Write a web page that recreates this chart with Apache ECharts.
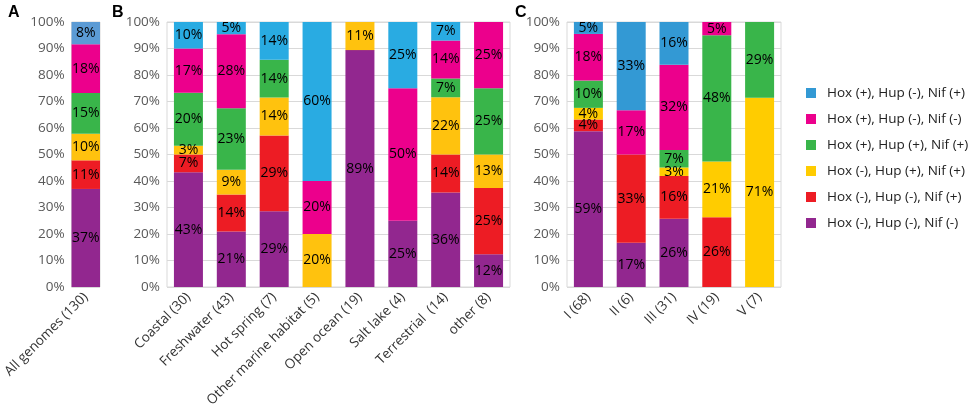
<!DOCTYPE html>
<html>
<head>
<meta charset="utf-8">
<script src="https://cdn.jsdelivr.net/npm/echarts@6/dist/echarts.min.js"></script>
<style>
  html, body { margin: 0; padding: 0; background: #fff; }
  #chart { width: 970px; height: 420px; }
</style>
</head>
<body>
<div id="chart"></div>
<script>
// series names, bottom of the stack first
const seriesNames = [
  'Hox (-), Hup (-), Nif (-)',
  'Hox (-), Hup (-), Nif (+)',
  'Hox (-), Hup (+), Nif (+)',
  'Hox (+), Hup (+), Nif (+)',
  'Hox (+), Hup (-), Nif (-)',
  'Hox (+), Hup (-), Nif (+)'
]

const catsA = ['All genomes (130)']
const catsB = ['Coastal (30)', 'Freshwater (43)', 'Hot spring (7)', 'Other marine habitat (5)',
  'Open ocean (19)', 'Salt lake (4)', 'Terrestrial  (14)', 'other (8)']
const catsC = ['I (68)', 'II (6)', 'III (31)', 'IV (19)', 'V (7)']

// percent per category, one array per series (same order as seriesNames)
const valuesA = [
  [37.0],
  [10.8],
  [10.0],
  [15.4],
  [18.4],
  [8.4]
]
const valuesB = [
  [43.3, 20.9, 28.6, 0, 89.4, 25, 35.7, 12.4],
  [6.7, 14.0, 28.6, 0, 0, 0, 14.3, 25],
  [3.3, 9.3, 14.3, 20, 10.6, 0, 21.6, 12.6],
  [20.0, 23.3, 14.3, 0, 0, 0, 7.1, 25],
  [16.7, 27.9, 0, 20, 0, 50, 14.3, 25],
  [10.0, 4.6, 14.2, 60, 0, 25, 7.0, 0]
]
const valuesC = [
  [58.8, 16.7, 25.8, 0, 0],
  [4.4, 33.3, 16.1, 26.3, 0],
  [4.4, 0, 3.2, 21.1, 71.4],
  [10.3, 0, 6.6, 47.6, 28.6],
  [17.6, 16.7, 32.2, 5.0, 0],
  [4.5, 33.3, 16.1, 0, 0]
]

const yTicks = [0, 10, 20, 30, 40, 50, 60, 70, 80, 90, 100]

const baseColors = ['#92278F', '#ED1C24', '#FFC20E', '#39B54A', '#EC008C']
const colorsA = baseColors.concat(['#5B9BD5'])
const colorsB = baseColors.concat(['#29ABE2'])
const colorsC = ['#92278F', '#ED1C24', '#FFCC00', '#39B54A', '#EC008C', '#3399D4']

const FONT = 'Open Sans'

const grids = [
  { left: 62, top: 22, width: 38, height: 265 },
  { left: 167, top: 22, width: 343, height: 265 },
  { left: 567, top: 22, width: 214, height: 265 }
].map(g => Object.assign(g, { show: true, borderColor: '#D9D9D9', borderWidth: 1 }))

const xAxes = [catsA, catsB, catsC].map((cats, i) => ({
  type: 'category',
  gridIndex: i,
  data: cats,
  axisLine: { show: false },
  axisTick: { show: false },
  axisLabel: { rotate: 45, interval: 0, margin: 8, color: '#333', fontSize: 13.5, fontFamily: FONT }
}))

const yAxes = [0, 1, 2].map(i => ({
  type: 'value',
  gridIndex: i,
  min: 0,
  max: 100,
  interval: 10,
  axisLine: { show: false },
  axisTick: { show: false },
  splitLine: { lineStyle: { color: '#D9D9D9' } },
  axisLabel: {
    margin: 7, color: '#595959', fontSize: 13.5, fontFamily: FONT,
    formatter: v => yTicks.includes(v) ? v + '%' : ''
  }
}))

const makeSeries = (values, colors, idx) => values.map((data, s) => ({
  name: seriesNames[s],
  type: 'bar',
  stack: 'panel' + idx,
  xAxisIndex: idx,
  yAxisIndex: idx,
  barWidth: 29,
  data: data,
  itemStyle: { color: colors[s] },
  label: {
    show: true,
    position: 'inside',
    color: '#000',
    fontSize: 14,
    fontFamily: FONT,
    formatter: p => p.value > 0 ? Math.round(p.value) + '%' : ''
  },
  emphasis: { disabled: true }
}))

const series = [].concat(
  makeSeries(valuesA, colorsA, 0),
  makeSeries(valuesB, colorsB, 1),
  makeSeries(valuesC, colorsC, 2)
)

const legendData = seriesNames.map((n, i) => ({ name: n, itemStyle: { color: colorsC[i] } })).reverse()

const myChart = echarts.init(document.getElementById('chart'))
myChart.setOption({
  animation: false,
  grid: grids,
  xAxis: xAxes,
  yAxis: yAxes,
  legend: {
    orient: 'vertical',
    left: 801,
    top: 80,
    icon: 'rect',
    itemWidth: 10,
    itemHeight: 10,
    itemGap: 10,
    selectedMode: false,
    data: legendData,
    textStyle: { color: '#222', fontSize: 13.5, fontFamily: FONT, lineHeight: 16, padding: [0, 0, 0, 6] }
  },
  graphic: [
    { type: 'text', left: 8, top: 5, style: { text: 'A', font: 'bold 16px Arial', fill: '#000' } },
    { type: 'text', left: 112, top: 5, style: { text: 'B', font: 'bold 16px Arial', fill: '#000' } },
    { type: 'text', left: 515, top: 5, style: { text: 'C', font: 'bold 16px Arial', fill: '#000' } }
  ],
  series: series
})
</script>
</body>
</html>
